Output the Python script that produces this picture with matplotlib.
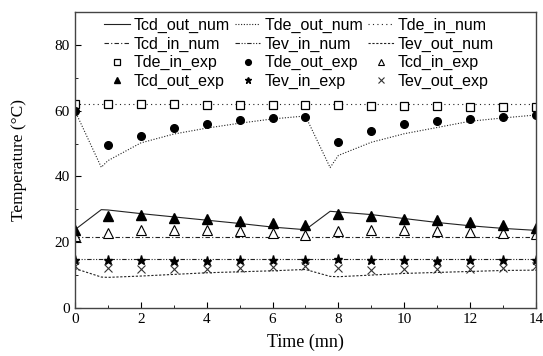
import matplotlib
matplotlib.use('Agg')
import matplotlib.pyplot as plt
from matplotlib.ticker import MultipleLocator

# numerical model curves
t_num = [0, 0.8, 1, 2, 3, 4, 5, 6, 7, 7.75, 8, 9, 10, 11, 12, 13, 14]
tcd_out_num = [23.8, 29.9, 29.8, 28.7, 27.7, 26.7, 25.7, 24.6, 23.8, 29.4, 29.2, 28.4, 27.2, 26.0, 25.0, 24.2, 23.6]
tde_out_num = [60.0, 42.8, 44.8, 50.2, 52.9, 54.7, 56.2, 57.5, 58.4, 42.7, 46.4, 50.4, 53.0, 54.9, 56.8, 57.8, 58.7]
tde_in_num = [62.0] * len(t_num)
tcd_in_num = [21.7] * len(t_num)
tev_in_num = [14.8] * len(t_num)
tev_out_num = [12.0, 9.4, 9.3, 9.7, 10.2, 10.7, 11.0, 11.3, 11.7, 9.6, 9.5, 10.0, 10.5, 10.8, 11.1, 11.4, 11.5]

# experimental points
t_exp = list(range(15))
tde_in_exp = [62.0, 62.0, 62.0, 61.9, 61.8, 61.7, 61.7, 61.6, 61.6, 61.5, 61.4, 61.3, 61.2, 61.1, 61.0]
tde_out_exp = [60.0, 49.7, 52.2, 54.6, 56.0, 57.1, 57.8, 58.0, 50.5, 53.8, 55.9, 57.0, 57.5, 58.0, 58.6]
tcd_in_exp = [22.0, 22.8, 23.6, 23.8, 23.6, 23.3, 22.9, 22.3, 23.4, 23.8, 23.8, 23.4, 23.1, 22.8, 22.5]
tcd_out_exp = [23.6, 27.9, 28.2, 27.5, 27.0, 26.4, 25.7, 25.3, 28.5, 27.9, 27.2, 26.7, 26.0, 25.3, 24.3]
tev_in_exp = [14.6, 14.5, 14.5, 14.4, 14.4, 14.5, 14.5, 14.6, 14.9, 14.6, 14.5, 14.4, 14.5, 14.5, 14.6]
tev_out_exp = [12.7, 12.2, 11.7, 11.7, 11.8, 12.0, 12.5, 12.8, 12.0, 11.5, 11.7, 11.8, 11.8, 12.2, 12.7]

fig = plt.figure(figsize=(5.43, 3.56), dpi=100)
ax = fig.add_axes([0.138, 0.135, 0.849, 0.831])

lw = 0.8
c = '#222222'
h_cd_out, = ax.plot(t_num, tcd_out_num, '-', color=c, lw=lw, label='Tcd_out_num')
h_de_out, = ax.plot(t_num, tde_out_num, color=c, lw=lw, ls=(0, (1, 1.5)), label='Tde_out_num')
h_de_in, = ax.plot(t_num, tde_in_num, color=c, lw=lw, ls=(0, (1, 3)), label='Tde_in_num')
h_cd_in, = ax.plot(t_num, tcd_in_num, color=c, lw=lw, ls=(0, (4, 2, 1, 2)), label='Tcd_in_num')
h_ev_in, = ax.plot(t_num, tev_in_num, color=c, lw=lw, ls=(0, (4, 1.5, 1, 1.5, 1, 1.5)), label='Tev_in_num')
h_ev_out, = ax.plot(t_num, tev_out_num, color=c, lw=lw, ls=(0, (2, 1.5)), label='Tev_out_num')

h_de_in_e, = ax.plot(t_exp, tde_in_exp, 's', mfc='white', mec='black', ms=5.5, mew=0.9, label='Tde_in_exp')
h_de_out_e, = ax.plot(t_exp, tde_out_exp, 'o', color='black', ms=5.5, label='Tde_out_exp')
h_cd_in_e, = ax.plot(t_exp, tcd_in_exp, '^', mfc='white', mec='black', ms=6.5, mew=0.8, label='Tcd_in_exp')
h_cd_out_e, = ax.plot(t_exp, tcd_out_exp, '^', color='black', ms=6.5, label='Tcd_out_exp')
h_ev_in_e, = ax.plot(t_exp, tev_in_exp, '*', color='black', ms=6.5, label='Tev_in_exp')
h_ev_out_e, = ax.plot(t_exp, tev_out_exp, 'x', color='#333333', ms=5.5, mew=0.8, label='Tev_out_exp')

# legend is filled column by column, so order handles to read row-wise
handles = [h_cd_out, h_cd_in, h_de_in_e, h_cd_out_e,
           h_de_out, h_ev_in, h_de_out_e, h_ev_in_e,
           h_de_in, h_ev_out, h_cd_in_e, h_ev_out_e]
ax.legend(handles=handles, ncol=3, loc='upper left', bbox_to_anchor=(0.045, 1.01),
          frameon=False, prop={'family': 'Liberation Sans', 'size': 11.5},
          handlelength=1.6, handletextpad=0.25, columnspacing=0.3,
          labelspacing=0.22, borderaxespad=0.15, markerscale=0.75)

ax.set_xlim(0, 14)
ax.set_ylim(0, 90)
ax.xaxis.set_major_locator(MultipleLocator(2))
ax.xaxis.set_minor_locator(MultipleLocator(1))
ax.yaxis.set_major_locator(MultipleLocator(20))
ax.yaxis.set_minor_locator(MultipleLocator(10))
ax.tick_params(which='both', direction='in', labelsize=11)
ax.tick_params(which='major', length=4)
ax.tick_params(which='minor', length=2.5)
for lab in ax.get_xticklabels() + ax.get_yticklabels():
    lab.set_family('Liberation Serif')
for s in ax.spines.values():
    s.set_color('#444444')
    s.set_linewidth(1.0)

ax.set_xlabel('Time (mn)', family='Liberation Serif', fontsize=13, labelpad=6)
ax.set_ylabel('Temperature (°C)', family='Liberation Serif', fontsize=12.5, labelpad=20)

fig.savefig('out.png', dpi=100)
